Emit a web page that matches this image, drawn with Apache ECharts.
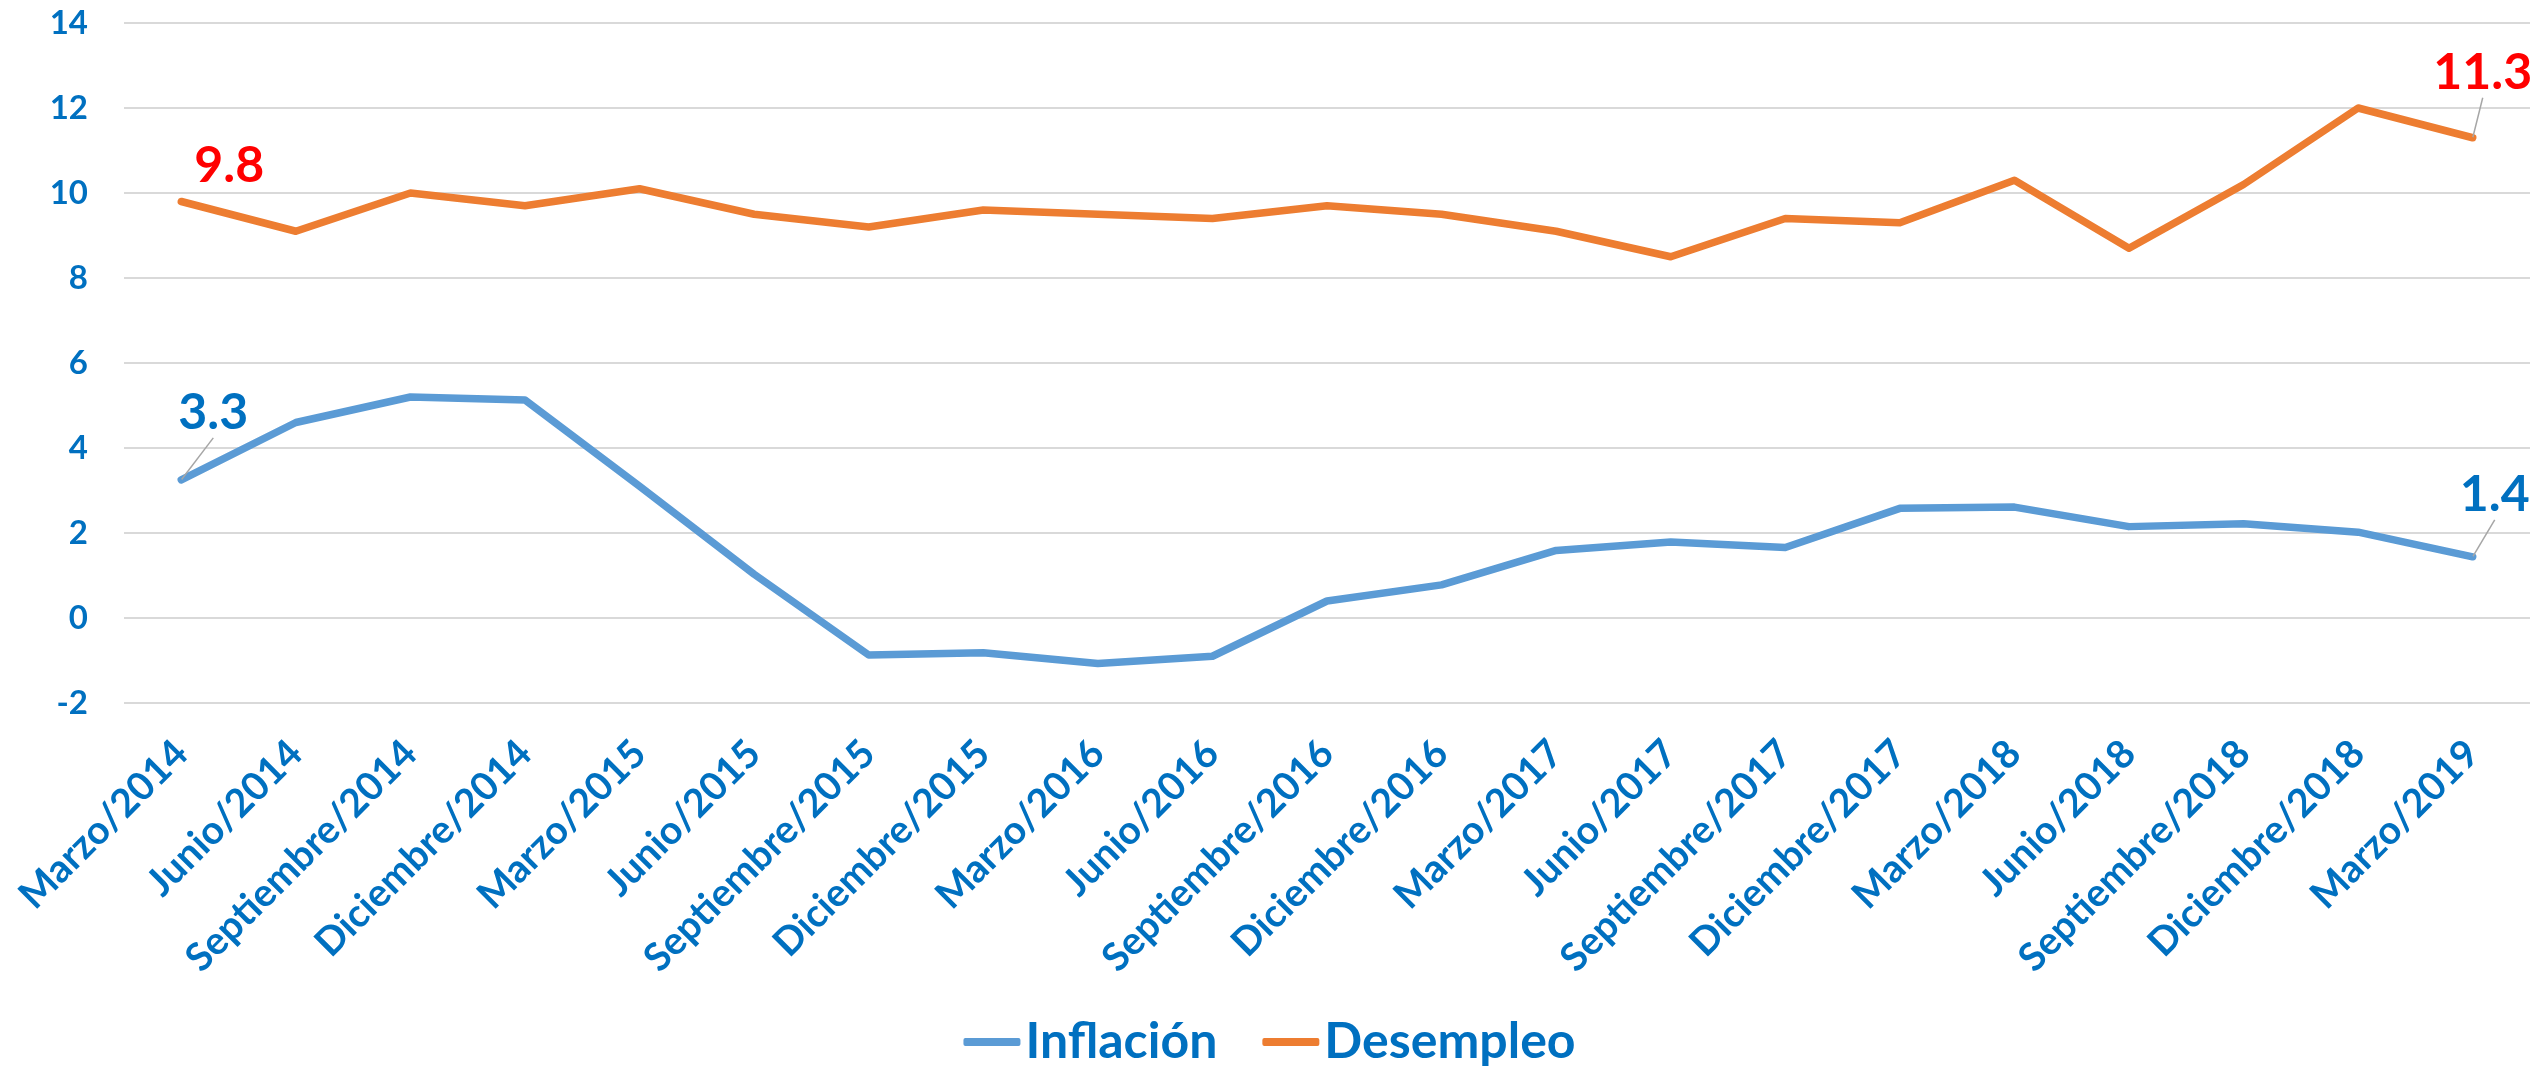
<!DOCTYPE html>
<html>
<head>
<meta charset="utf-8">
<script src="https://cdn.jsdelivr.net/npm/echarts@6/dist/echarts.min.js"></script>
<style>
html,body{margin:0;padding:0;background:#fff;}
#chart{width:2539px;height:1069px;}
</style>
</head>
<body>
<div id="chart"></div>
<script>
var categories = ["Marzo/2014","Junio/2014","Septiembre/2014","Diciembre/2014","Marzo/2015","Junio/2015","Septiembre/2015","Diciembre/2015","Marzo/2016","Junio/2016","Septiembre/2016","Diciembre/2016","Marzo/2017","Junio/2017","Septiembre/2017","Diciembre/2017","Marzo/2018","Junio/2018","Septiembre/2018","Diciembre/2018","Marzo/2019"];
var inflacion = [3.25, 4.6, 5.2, 5.13, 3.1, 1.03, -0.87, -0.82, -1.07, -0.9, 0.4, 0.78, 1.59, 1.79, 1.66, 2.58, 2.61, 2.15, 2.22, 2.02, 1.44];
var desempleo = [9.8, 9.1, 10.0, 9.7, 10.1, 9.5, 9.2, 9.6, 9.5, 9.4, 9.7, 9.5, 9.1, 8.5, 9.4, 9.3, 10.3, 8.7, 10.2, 12.0, 11.3];
var yTicks = [-2, 0, 2, 4, 6, 8, 10, 12, 14];
var seriesNames = ["Inflación", "Desempleo"];

var FONT = 'Lato, "Open Sans", sans-serif';
var BLUE_TEXT = '#0070C0';

// label offsets (dx, dy) of the shown data labels, by data index
var inflLabelOffsets = {0: [32, -67], 20: [22, -62]};
var desLabelOffsets = {0: [48, -36], 20: [10, -65]};

function buildData(values, offsets, noLineIdx) {
  return values.map(function (v, i) {
    if (offsets[i]) {
      return {
        value: v,
        label: {show: true, formatter: function () { return (Math.round(v * 10) / 10).toFixed(1); }},
        labelLine: {show: noLineIdx.indexOf(i) < 0}
      };
    }
    return v;
  });
}

var chart = echarts.init(document.getElementById('chart'), null, {renderer: 'canvas'});
var option = {
  animation: false,
  grid: {left: 124, right: 9, top: 23, bottom: 366, containLabel: false},
  legend: {
    data: seriesNames,
    left: 'center',
    top: 1012,
    icon: 'roundRect',
    itemWidth: 57,
    itemHeight: 8,
    itemGap: 45,
    textStyle: {fontFamily: FONT, fontWeight: 'bold', fontSize: 50, color: BLUE_TEXT}
  },
  xAxis: {
    type: 'category',
    data: categories,
    boundaryGap: true,
    axisLine: {show: false},
    axisTick: {show: false},
    axisLabel: {
      interval: 0,
      rotate: 45,
      margin: 44,
      fontFamily: FONT,
      fontWeight: 'bold',
      fontSize: 39,
      color: BLUE_TEXT
    }
  },
  yAxis: {
    type: 'value',
    min: yTicks[0],
    max: yTicks[yTicks.length - 1],
    interval: 2,
    axisLine: {show: false},
    axisTick: {show: false},
    splitLine: {lineStyle: {color: '#D9D9D9', width: 2}},
    axisLabel: {
      margin: 36,
      fontFamily: FONT,
      fontWeight: 'bold',
      fontSize: 33,
      color: BLUE_TEXT
    }
  },
  series: [
    {
      name: seriesNames[0],
      type: 'line',
      data: buildData(inflacion, inflLabelOffsets, []),
      symbol: 'circle',
      symbolSize: 1,
      showSymbol: true,
      color: '#5B9BD5',
      lineStyle: {width: 7.5, color: '#5B9BD5', cap: 'round', join: 'round'},
      label: {show: false, position: 'inside', fontFamily: FONT, fontWeight: 'bold', fontSize: 50, color: BLUE_TEXT},
      labelLine: {show: true, lineStyle: {color: '#A6A6A6', width: 1.5}},
      labelLayout: function (p) {
        var o = inflLabelOffsets[p.dataIndex];
        return o ? {dx: o[0], dy: o[1]} : {};
      },
      emphasis: {disabled: true}
    },
    {
      name: seriesNames[1],
      type: 'line',
      data: buildData(desempleo, desLabelOffsets, [0]),
      symbol: 'circle',
      symbolSize: 1,
      showSymbol: true,
      color: '#ED7D31',
      lineStyle: {width: 7.5, color: '#ED7D31', cap: 'round', join: 'round'},
      label: {show: false, position: 'inside', fontFamily: FONT, fontWeight: 'bold', fontSize: 50, color: '#FF0000'},
      labelLine: {show: true, lineStyle: {color: '#A6A6A6', width: 1.5}},
      labelLayout: function (p) {
        var o = desLabelOffsets[p.dataIndex];
        return o ? {dx: o[0], dy: o[1]} : {};
      },
      emphasis: {disabled: true}
    }
  ]
};
chart.setOption(option);
</script>
</body>
</html>
